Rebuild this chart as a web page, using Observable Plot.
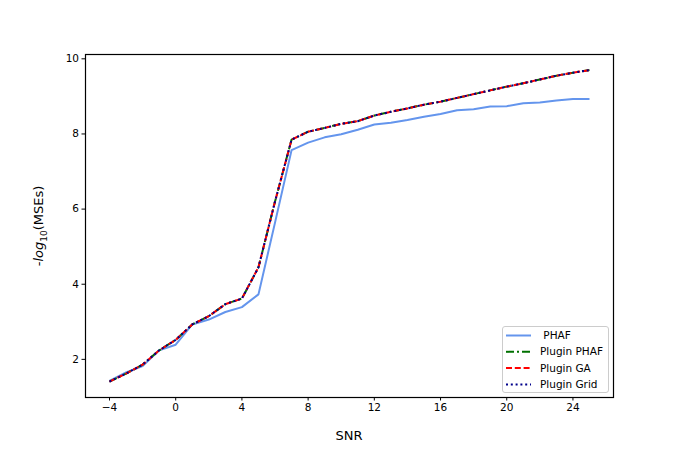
<!DOCTYPE html>
<html>
<head>
<meta charset="utf-8">
<script src="https://cdn.jsdelivr.net/npm/d3@7"></script>
<script src="https://cdn.jsdelivr.net/npm/@observablehq/plot@0.6"></script>
<style>
  html, body { margin: 0; padding: 0; background: #fff; }
  #wrap { position: relative; width: 681px; height: 454px; font-family: "DejaVu Sans", sans-serif; }
  #ylab { position: absolute; left: 40px; top: 226px; transform: translate(-50%, -50%) rotate(-90deg); font-size: 13px; white-space: nowrap; color: #000; }
  #ylab sub { font-size: 9px; }
  #xlab { position: absolute; left: 349px; top: 435px; transform: translate(-50%, -50%); font-size: 13px; color: #000; }
  #legend { position: absolute; left: 502px; top: 326px; }
</style>
</head>
<body>
<div id="wrap">
  <div id="chart"></div>
  <div id="ylab">-<i>log</i><sub>10</sub>(MSEs)</div>
  <div id="xlab">SNR</div>
  <svg id="legend" width="108" height="68"></svg>
</div>
<script>
const snr = [-4,-3,-2,-1,0,1,2,3,4,5,6,7,8,9,10,11,12,13,14,15,16,17,18,19,20,21,22,23,24,25];
const phaf = [1.43,1.65,1.82,2.24,2.39,2.93,3.06,3.26,3.39,3.73,5.64,7.57,7.77,7.91,7.99,8.11,8.25,8.30,8.37,8.46,8.53,8.63,8.66,8.73,8.74,8.82,8.84,8.89,8.93,8.93];
const pluginPhaf = [1.41,1.62,1.86,2.24,2.52,2.93,3.15,3.47,3.62,4.45,6.20,7.85,8.06,8.16,8.27,8.34,8.49,8.59,8.68,8.78,8.86,8.96,9.06,9.16,9.26,9.35,9.45,9.55,9.63,9.70];
const pluginGA = [1.41,1.62,1.86,2.24,2.52,2.93,3.15,3.47,3.62,4.45,6.20,7.85,8.06,8.16,8.27,8.34,8.49,8.59,8.68,8.78,8.86,8.96,9.06,9.16,9.26,9.35,9.45,9.55,9.63,9.70];
const pluginGrid = [1.41,1.62,1.86,2.24,2.52,2.93,3.15,3.47,3.62,4.45,6.20,7.85,8.06,8.16,8.27,8.34,8.49,8.59,8.68,8.78,8.86,8.96,9.06,9.16,9.26,9.35,9.45,9.55,9.63,9.70];
const xTicks = [-4,0,4,8,12,16,20,24];
const yTicks = [2,4,6,8,10];
const seriesNames = [" PHAF","Plugin PHAF","Plugin GA","Plugin Grid"];

const styles = [
  {stroke:"#6495ED", dash:null},
  {stroke:"#007000", dash:"8,3,2,3"},
  {stroke:"#ff0000", dash:"6,2.8"},
  {stroke:"#00008b", dash:"2,2.8"}
];
const allSeries = [phaf, pluginPhaf, pluginGA, pluginGrid];
const tables = allSeries.map(vals => snr.map((x,i) => ({x, y: vals[i]})));

const fmt = d => d < 0 ? "\u2212" + (-d) : String(d);

const chart = Plot.plot({
  width: 681, height: 454,
  marginLeft: 85, marginRight: 68, marginTop: 54, marginBottom: 57,
  style: {fontFamily: "DejaVu Sans, sans-serif", fontSize: "10.5px", color: "#000", background: "#fff"},
  x: {domain: [-5.45, 26.45]},
  y: {domain: [0.985, 10.115]},
  marks: [
    ...tables.map((t, k) => Plot.line(t, {x: "x", y: "y", stroke: styles[k].stroke, strokeWidth: 2,
      strokeDasharray: styles[k].dash || undefined, strokeLinecap: "butt", strokeLinejoin: "round"})),
    Plot.frame({stroke: "#000", strokeWidth: 1.2}),
    Plot.axisX({ticks: xTicks, tickFormat: fmt, tickSize: 3.5, tickPadding: 3, label: null, stroke: "#000"}),
    Plot.axisY({ticks: yTicks, tickFormat: fmt, tickSize: 3.5, tickPadding: 3, label: null, stroke: "#000"})
  ]
});
document.getElementById("chart").appendChild(chart);

// legend
const lg = d3.select("#legend");
lg.append("rect").attr("x", 0.5).attr("y", 0.5).attr("width", 106).attr("height", 66)
  .attr("rx", 2.5).attr("fill", "#fff").attr("fill-opacity", 0.8).attr("stroke", "#cccccc");
seriesNames.forEach((name, k) => {
  const yy = 9.5 + k * 16.3;
  lg.append("line").attr("x1", 4).attr("x2", 29).attr("y1", yy).attr("y2", yy)
    .attr("stroke", styles[k].stroke).attr("stroke-width", 2)
    .attr("stroke-dasharray", styles[k].dash);
  lg.append("text").attr("x", 38).attr("y", yy + 3.6).text(name)
    .attr("font-family", "DejaVu Sans, sans-serif").attr("font-size", "10.5px").attr("fill", "#000")
    .attr("xml:space", "preserve").style("white-space", "pre");
});
</script>
</body>
</html>
